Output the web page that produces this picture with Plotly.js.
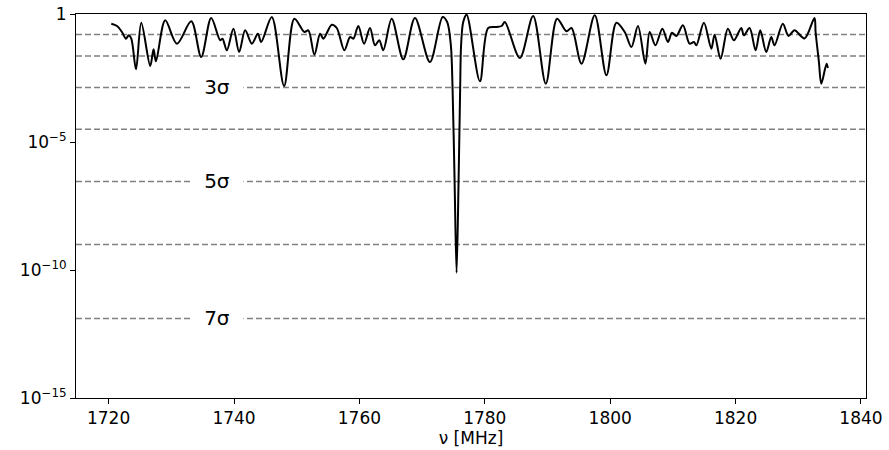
<!DOCTYPE html>
<html>
<head>
<meta charset="utf-8">
<script src="https://cdn.plot.ly/plotly-3.0.1.min.js"></script>
<style>
html,body{margin:0;padding:0;background:#fff;}
#chart{width:889px;height:450px;}
</style>
</head>
<body>
<div id="chart"></div>
<script>
// Frequency (MHz) of each sample of the p-value curve
const frequencyMHz = [
  1720.43,1721.34,1722.13,1722.77,1723.19,1723.62,1724.37,1725.21,1726.64,1727.17,
  1727.55,1729.03,1730.90,1733.18,1734.77,1736.36,1737.80,1738.16,1738.86,1739.91,
  1740.82,1741.78,1742.85,1743.80,1744.33,1746.03,1747.99,1749.63,1751.22,1751.86,
  1752.82,1753.73,1754.25,1755.59,1756.39,1757.60,1758.51,1759.03,1759.83,1760.74,
  1761.69,1762.49,1763.17,1763.81,1765.15,1767.00,1768.86,1771.25,1773.27,1774.00,
  1774.59,1774.86,1775.18,1775.50,1775.82,1776.07,1776.22,1776.56,1777.10,1779.22,
  1780.54,1781.88,1782.68,1783.20,1785.59,1787.71,1789.73,1791.53,1793.03,1793.83,
  1795.42,1797.54,1799.40,1800.99,1802.32,1803.38,1804.43,1805.61,1806.30,1807.21,
  1808.32,1809.21,1809.85,1810.55,1811.60,1812.67,1813.36,1813.74,1814.95,1816.13,
  1816.65,1817.61,1818.77,1819.73,1820.91,1821.32,1822.23,1823.19,1823.93,1824.89,
  1825.69,1826.21,1827.54,1828.44,1829.40,1830.99,1832.58,1832.76,1833.29,1833.67,
  1834.51,1834.72
];
// log10 of the local p-value at each frequency
const log10PValue = [
  -0.379,-0.469,-0.703,-0.965,-0.832,-0.965,-2.160,-0.340,-2.031,-1.379,
  -1.848,-0.246,-1.160,-0.285,-1.680,-0.156,-1.027,-0.965,-1.418,-0.574,
  -1.484,-0.637,-1.160,-0.770,-1.094,-0.117,-2.813,-0.184,-0.703,-0.637,
  -1.590,-0.770,-0.965,-0.418,-0.547,-1.418,-0.898,-0.965,-0.469,-1.160,
  -0.547,-1.223,-1.027,-1.418,-0.184,-1.770,-0.156,-1.875,-0.117,-0.313,
  -1.223,-2.918,-6.484,-10.105,-6.484,-2.918,-1.223,-0.313,-0.027,-2.629,
  -0.547,-0.508,-0.469,-0.313,-1.719,-0.078,-2.723,-0.184,-0.676,-0.547,
  -1.941,-0.051,-2.395,-0.340,-0.703,-1.289,-0.469,-1.941,-0.703,-1.223,
  -0.574,-1.094,-0.730,-0.859,-0.441,-1.160,-1.094,-1.223,-0.340,-1.355,
  -0.809,-1.746,-0.574,-1.027,-0.547,-0.832,-0.547,-1.418,-0.637,-1.484,
  -0.898,-1.223,-0.379,-0.859,-0.637,-0.953,-0.156,-0.703,-1.875,-2.723,
  -1.941,-2.109
];
const pValue = log10PValue.map(v => Math.pow(10, v));

// Significance levels (one-sided tail probabilities)
const sigmaLevels = [1, 2, 3, 4, 5, 6, 7];
const sigmaPValues = [1.587e-1, 2.275e-2, 1.350e-3, 3.167e-5, 2.867e-7, 9.866e-10, 1.280e-12];
const labelledSigmas = [3, 5, 7];
const labelFrequency = 1737.3;

// Axis ticks
const xTickVals = [1720, 1740, 1760, 1780, 1800, 1820, 1840];
const yTickVals = [1e-15, 1e-10, 1e-5, 1];
const yTickText = ['10<sup>\u221215</sup>', '10<sup>\u221210</sup>', '10<sup>\u22125</sup>', '1'];

const shapes = sigmaPValues.map(p => ({
  type: 'line', xref: 'paper', x0: 0, x1: 1, yref: 'y', y0: p, y1: p,
  line: {color: '#808080', width: 1.6, dash: '6px,3px'}, layer: 'below'
}));

const annotations = labelledSigmas.map(s => ({
  x: labelFrequency, y: Math.log10(sigmaPValues[sigmaLevels.indexOf(s)]),
  xref: 'x', yref: 'y', text: s + '\u03c3', showarrow: false,
  font: {family: 'DejaVu Sans', size: 20, color: '#000'},
  bgcolor: '#ffffff', borderpad: 2, xanchor: 'center', yanchor: 'middle',
  width: 48
}));

const trace = {
  x: frequencyMHz, y: pValue, type: 'scatter', mode: 'lines',
  line: {color: '#000', width: 2, shape: 'spline', smoothing: 0.9},
  hoverinfo: 'skip'
};

const layout = {
  width: 889, height: 450,
  margin: {l: 76, r: 23, t: 14, b: 52},
  paper_bgcolor: '#fff', plot_bgcolor: '#fff',
  showlegend: false,
  font: {family: 'DejaVu Sans', size: 17, color: '#000'},
  xaxis: {
    range: [1714.8, 1840.8], tickvals: xTickVals, ticks: 'outside', ticklen: 5, tickwidth: 1,
    tickcolor: '#000', showgrid: false, zeroline: false, showline: true, linecolor: '#000',
    linewidth: 1, mirror: true, tickfont: {size: 17},
    title: {text: '\u03bd [MHz]', font: {size: 17}, standoff: 4}
  },
  yaxis: {
    type: 'log', range: [-15, 0], tickvals: yTickVals, ticktext: yTickText,
    ticks: 'outside', ticklen: 5, tickwidth: 1, tickcolor: '#000',
    showgrid: false, zeroline: false, showline: true, linecolor: '#000',
    linewidth: 1, mirror: true, tickfont: {size: 17}
  },
  shapes: shapes,
  annotations: annotations
};

Plotly.newPlot('chart', [trace], layout, {displayModeBar: false, staticPlot: true});
</script>
</body>
</html>
